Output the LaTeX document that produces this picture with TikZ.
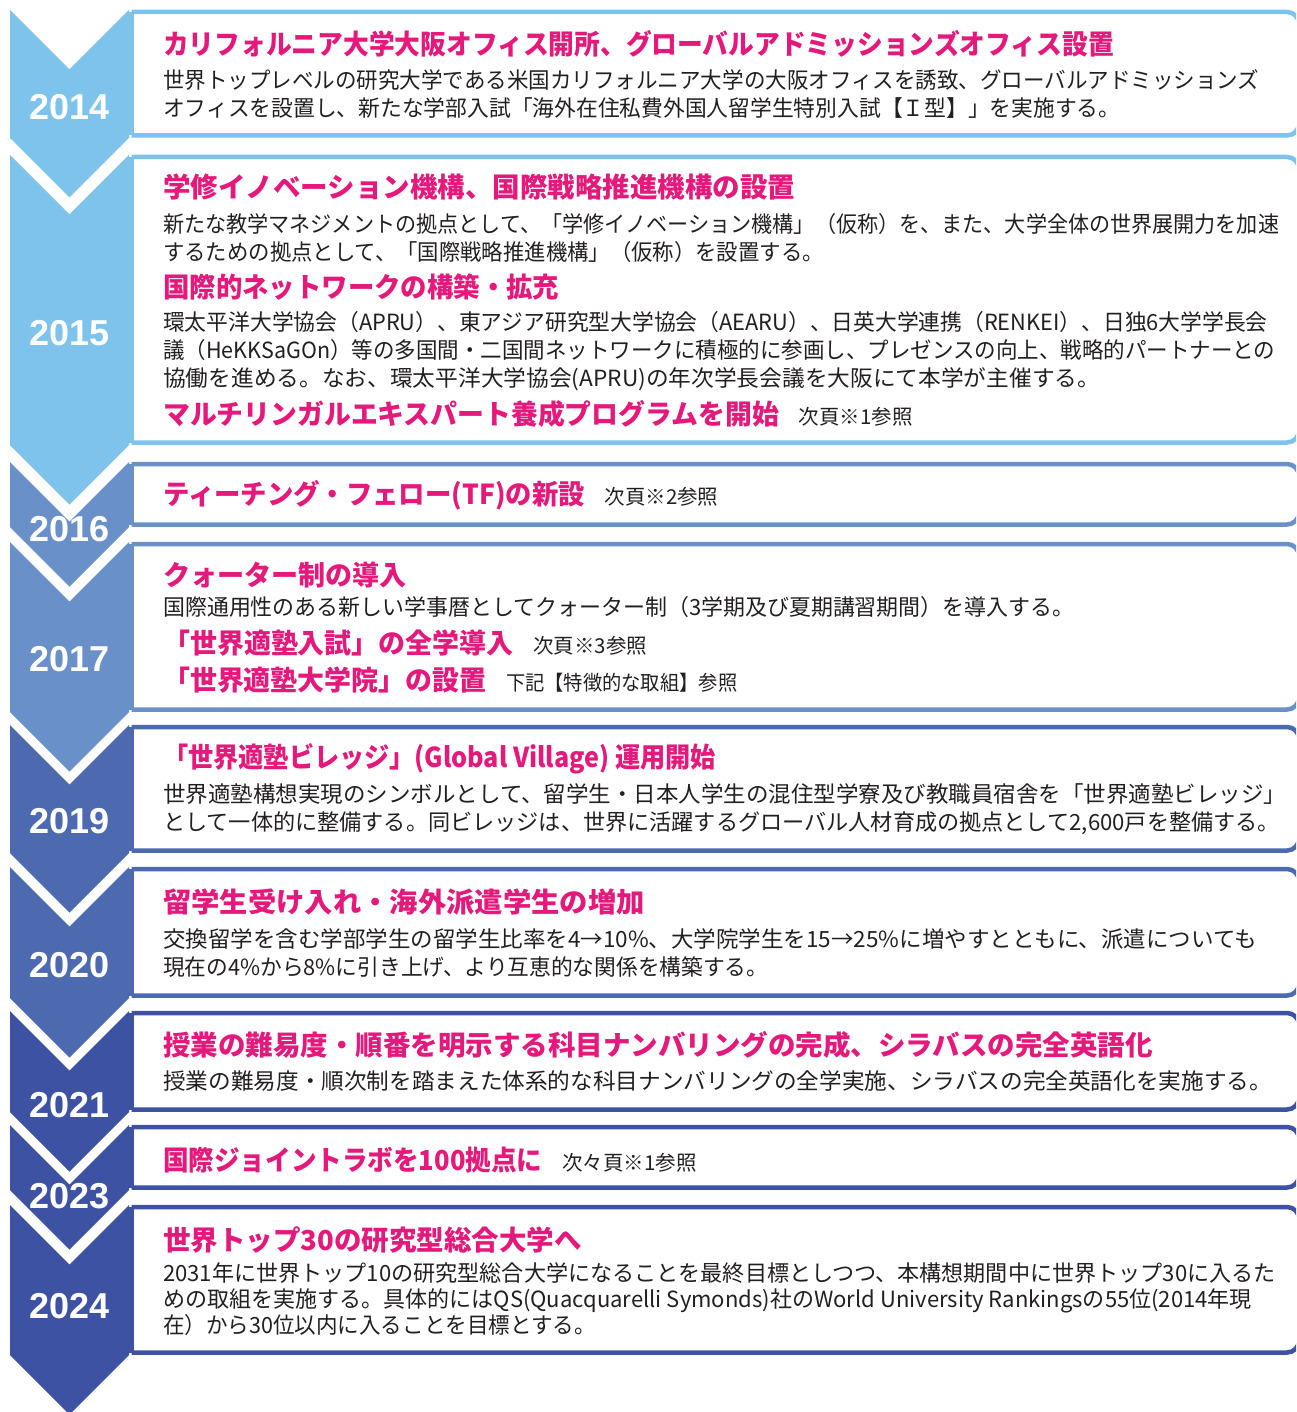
\documentclass[tikz,border=0pt]{standalone}
\usepackage{fontspec}
\setmainfont{Noto Sans CJK JP}
\newfontfamily\yearfont{Liberation Sans}
\definecolor{skyblue}{HTML}{7DC3EB}
\definecolor{midblue}{HTML}{6990C9}
\definecolor{deepblue}{HTML}{4D69B0}
\definecolor{darkblue}{HTML}{3D52A2}
\definecolor{titlepink}{HTML}{E4197B}
\definecolor{bodygray}{HTML}{231F20}
\tikzset{
  year/.style={inner sep=0pt, text=white, font=\yearfont\bfseries\fontsize{36}{36}\selectfont},
  headline/.style={anchor=west, inner sep=0pt, text=titlepink, font=\bfseries\fontsize{27.5}{30}\selectfont},
  bodytext/.style={anchor=west, inner sep=0pt, align=left, text=bodygray, font=\fontsize{22.3}{28}\selectfont},
  frame/.style={draw=#1, line width=4.5pt, rounded corners=12pt}
}
% horizontal squeeze of one line
\newcommand\squeezed[2]{\scalebox{#1}[1]{#2}}
\newcommand\seenote[1]{\hspace{0.72em}{\mdseries\fontsize{20.5}{20}\selectfont\color{bodygray}#1}}

\begin{document}
\begin{tikzpicture}[x=1pt,y=-1pt]
  \useasboundingbox (0,0) rectangle (1296,1412);
  \clip (0,0) rectangle (1296,1412);

  % chevrons and frames
  \foreach \t/\b/\c in {10/138/skyblue, 155/445/skyblue, 462/527/midblue,
      542/712/midblue, 725/853/deepblue, 867/998/deepblue,
      1011/1112/darkblue, 1125/1190/darkblue, 1205/1355/darkblue}{
    \fill[\c] (10,\t) -- (69.5,\t+59.5) -- (129,\t) -- (129,\b)
      -- (69.5,\b+59.5) -- (10,\b) -- cycle;
    \draw[frame=\c] (131.5,\t+2) -- (1299,\t+2) -- (1299,\b-2.5) -- (131.5,\b-2.5);
    \draw[\c, line width=4.5pt] (131.5,\t+2) -- (131.5,\b-2.5);
  }

  \node[year] (y2014) at (69.5,107) {2014};
  \node[year] (y2015) at (69.5,333) {2015};
  \node[year] (y2016) at (69.5,529) {2016};
  \node[year] (y2017) at (69.5,659) {2017};
  \node[year] (y2019) at (69.5,821) {2019};
  \node[year] (y2020) at (69.5,965) {2020};
  \node[year] (y2021) at (69.5,1105) {2021};
  \node[year] (y2023) at (69.5,1196) {2023};
  \node[year] (y2024) at (69.5,1306) {2024};

  % 2014
  \node[headline] (h2014) at (163,44) {\squeezed{0.936}{カリフォルニア大学大阪オフィス開所、グローバルアドミッションズオフィス設置}};
  \node[bodytext] (b2014) at (163,94) {\squeezed{0.965}{世界トップレベルの研究大学である米国カリフォルニア大学の大阪オフィスを誘致、グローバルアドミッションズ}\\
    \squeezed{0.976}{オフィスを設置し、新たな学部入試「海外在住私費外国人留学生特別入試【Ｉ型】」を実施する。}};

  % 2015
  \node[headline] (h2015a) at (163,187) {学修イノベーション機構、国際戦略推進機構の設置};
  \node[bodytext] (b2015a) at (163,238) {\squeezed{0.946}{新たな教学マネジメントの拠点として、「学修イノベーション機構」（仮称）を、また、大学全体の世界展開力を加速}\\
    \squeezed{0.958}{するための拠点として、「国際戦略推進機構」（仮称）を設置する。}};
  \node[headline] (h2015b) at (163,287) {\squeezed{0.96}{国際的ネットワークの構築・拡充}};
  \node[bodytext] (b2015b) at (163,351.5) {\squeezed{0.976}{環太平洋大学協会（APRU）、東アジア研究型大学協会（AEARU）、日英大学連携（RENKEI）、日独6大学学長会}\\
    \squeezed{0.964}{議（HeKKSaGOn）等の多国間・二国間ネットワークに積極的に参画し、プレゼンスの向上、戦略的パートナーとの}\\
    \squeezed{1.018}{協働を進める。なお、環太平洋大学協会(APRU)の年次学長会議を大阪にて本学が主催する。}};
  \node[headline] (h2015c) at (163,414) {\squeezed{0.976}{マルチリンガルエキスパート養成プログラムを開始}\seenote{次頁※1参照}};

  % 2016
  \node[headline] (h2016) at (163,495) {\squeezed{0.959}{ティーチング・フェロー(TF)の新設}\seenote{次頁※2参照}};

  % 2017
  \node[headline] (h2017a) at (163,575) {\squeezed{0.984}{クォーター制の導入}};
  \node[bodytext] (b2017) at (163,607) {\squeezed{0.984}{国際通用性のある新しい学事暦としてクォーター制（3学期及び夏期講習期間）を導入する。}};
  \node[headline] (h2017b) at (163,643) {\squeezed{0.98}{「世界適塾入試」の全学導入}\seenote{次頁※3参照}};
  \node[headline] (h2017c) at (163,680) {\squeezed{0.979}{「世界適塾大学院」の設置}\seenote{\squeezed{0.94}{下記【特徴的な取組】参照}}};

  % 2019
  \node[headline] (h2019) at (163,759) {\squeezed{0.915}{「世界適塾ビレッジ」(Global Village) 運用開始}};
  \node[bodytext] (b2019) at (163,809) {\squeezed{1.009}{世界適塾構想実現のシンボルとして、留学生・日本人学生の混住型学寮及び教職員宿舎を「世界適塾ビレッジ」}\\
    \squeezed{0.993}{として一体的に整備する。同ビレッジは、世界に活躍するグローバル人材育成の拠点として2,600戸を整備する。}};

  % 2020
  \node[headline] (h2020) at (163,902) {\squeezed{1.03}{留学生受け入れ・海外派遣学生の増加}};
  \node[bodytext] (b2020) at (163,953) {\squeezed{1.009}{交換留学を含む学部学生の留学生比率を4→10\%、大学院学生を15→25\%に増やすとともに、派遣についても}\\
    \squeezed{0.974}{現在の4\%から8\%に引き上げ、より互恵的な関係を構築する。}};

  % 2021
  \node[headline] (h2021) at (163,1045) {授業の難易度・順番を明示する科目ナンバリングの完成、シラバスの完全英語化};
  \node[bodytext] (b2021) at (163,1081) {\squeezed{1.015}{授業の難易度・順次制を踏まえた体系的な科目ナンバリングの全学実施、シラバスの完全英語化を実施する。}};

  % 2023
  \node[headline] (h2023) at (163,1160) {\squeezed{0.93}{国際ジョイントラボを100拠点に}\seenote{次々頁※1参照}};

  % 2024
  \node[headline] (h2024) at (163,1240) {世界トップ30の研究型総合大学へ};
  \node[bodytext, font=\fontsize{22.3}{26}\selectfont] (b2024) at (163,1299) {\squeezed{0.991}{2031年に世界トップ10の研究型総合大学になることを最終目標としつつ、本構想期間中に世界トップ30に入るた}\\
    \squeezed{0.988}{めの取組を実施する。具体的にはQS(Quacquarelli Symonds)社のWorld University Rankingsの55位(2014年現}\\
    \squeezed{0.966}{在）から30位以内に入ることを目標とする。}};
\end{tikzpicture}
\end{document}
